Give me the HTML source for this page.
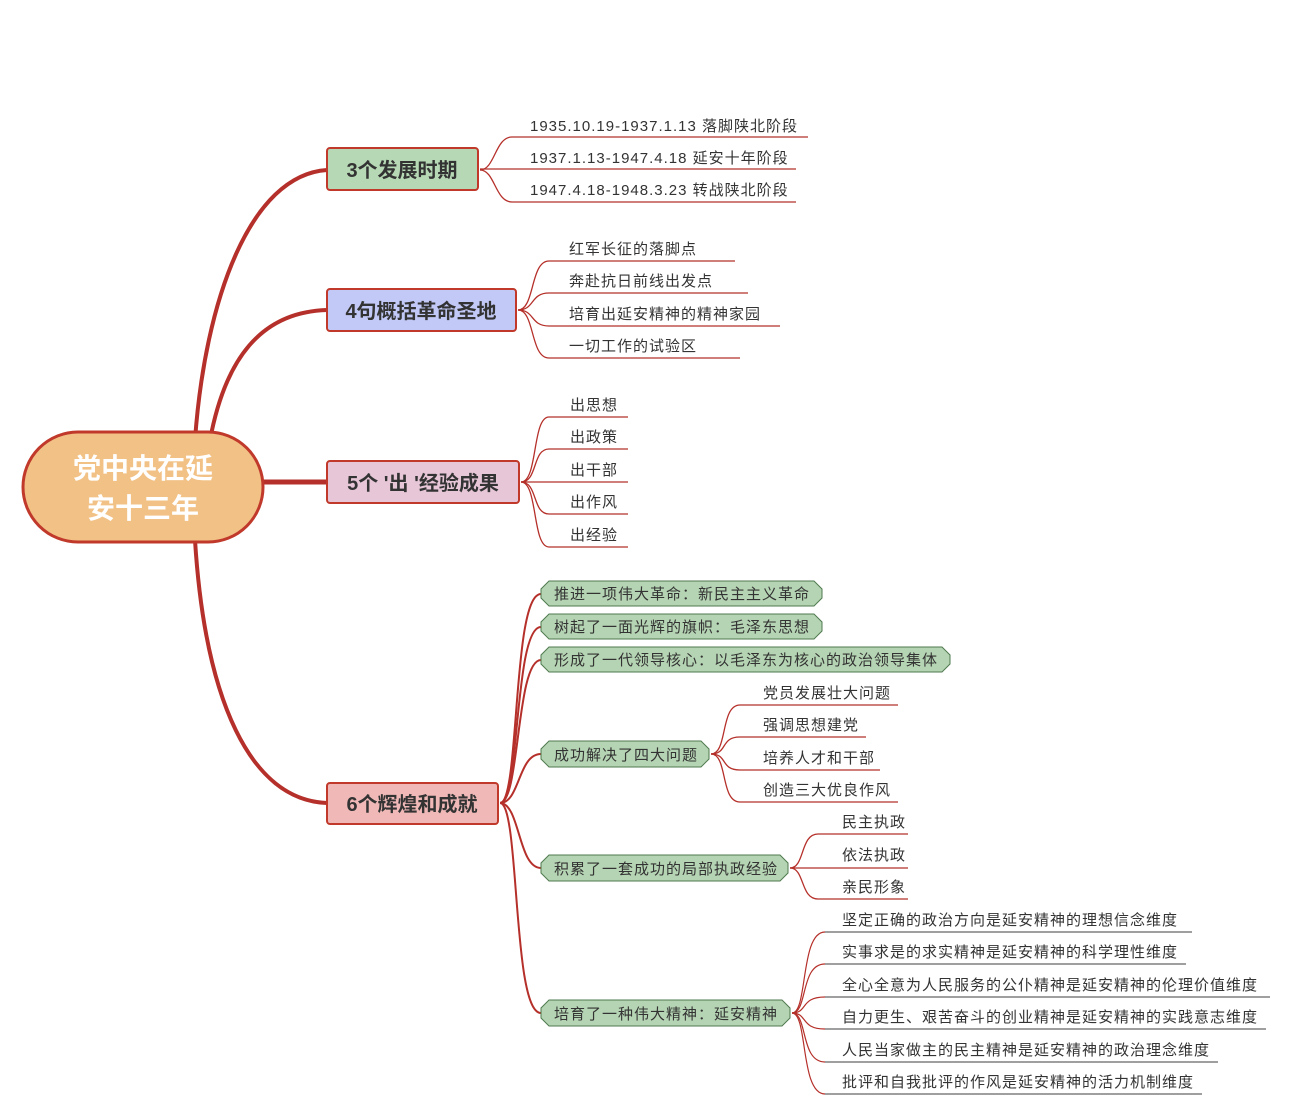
<!DOCTYPE html>
<html><head><meta charset="utf-8"><style>
html,body{margin:0;padding:0;background:#fff;}
svg{display:block;}
text{font-family:"Liberation Sans","Noto Sans CJK SC",sans-serif;}
.l{font-size:15px;fill:#333;letter-spacing:1px;}
.m{font-size:20px;font-weight:bold;fill:#333;}
</style></head><body>
<svg width="1292" height="1112" viewBox="0 0 1292 1112" xmlns="http://www.w3.org/2000/svg">
<g fill="none" stroke="#b5302a" stroke-linecap="round">
<path d="M195 440 C 205 300, 250 175, 327 170" stroke-width="4"/>
<path d="M210 440 C 225 360, 260 312, 327 310" stroke-width="4"/>
<path d="M262 482 L 327 482" stroke-width="5"/>
<path d="M195 540 C 205 700, 250 800, 327 803" stroke-width="4"/>
</g>
<g fill="none" stroke="#b5302a" stroke-width="1.3">
<path d="M480 170 C 495 170, 495 137, 512 137 H808"/>
<path d="M480 169 H796"/>
<path d="M480 170 C 495 170, 495 202, 512 202 H796"/>
<path d="M518 310 C 535 310, 530 261, 549 261 H735"/>
<path d="M518 310 C 535 310, 530 293, 549 293 H748"/>
<path d="M518 310 C 535 310, 530 326, 549 326 H780"/>
<path d="M518 310 C 535 310, 530 358, 549 358 H740"/>
<path d="M521 482 C 538 482, 532 417, 549 417 H628"/>
<path d="M521 482 C 538 482, 532 449, 549 449 H628"/>
<path d="M521 482 H628"/>
<path d="M521 482 C 538 482, 532 514, 549 514 H628"/>
<path d="M521 482 C 538 482, 532 547, 549 547 H628"/>
<path d="M500 803 C 520 803, 512 594, 541 594" stroke-width="2"/>
<path d="M500 803 C 520 803, 514 627, 541 627" stroke-width="2"/>
<path d="M500 803 C 520 803, 516 660, 541 660" stroke-width="2"/>
<path d="M500 803 C 520 803, 518 754, 541 754" stroke-width="2"/>
<path d="M500 803 C 520 803, 518 868, 541 868" stroke-width="2"/>
<path d="M500 803 C 520 803, 512 1013, 541 1013" stroke-width="2"/>
<path d="M711 754 C 728 754, 720 705, 740 705 H898"/>
<path d="M711 754 C 728 754, 720 737, 740 737 H866"/>
<path d="M711 754 C 728 754, 720 770, 740 770 H880"/>
<path d="M711 754 C 728 754, 720 802, 740 802 H898"/>
<path d="M790 868 C 805 868, 800 834, 818 834 H908"/>
<path d="M790 868 H908"/>
<path d="M790 868 C 805 868, 800 899, 818 899 H908"/>
</g>
<g fill="none" stroke="#b5302a" stroke-width="1.2">
<path d="M792 1013 C 808 1013, 800 932, 825 932"/>
<path d="M792 1013 C 808 1013, 800 964, 825 964"/>
<path d="M792 1013 C 808 1013, 800 997, 825 997"/>
<path d="M792 1013 C 808 1013, 800 1029, 825 1029"/>
<path d="M792 1013 C 808 1013, 800 1062, 825 1062"/>
<path d="M792 1013 C 808 1013, 800 1094, 825 1094"/>
</g>
<g stroke="#666" stroke-width="1.2">
<line x1="825" y1="932" x2="1192" y2="932"/>
<line x1="825" y1="964" x2="1186" y2="964"/>
<line x1="825" y1="997" x2="1270" y2="997"/>
<line x1="825" y1="1029" x2="1266" y2="1029"/>
<line x1="825" y1="1062" x2="1218" y2="1062"/>
<line x1="825" y1="1094" x2="1202" y2="1094"/>
</g>

<rect x="23" y="432" width="240" height="110" rx="55" fill="#f2c185" stroke="#c0392b" stroke-width="3"/>
<text x="143" y="478" text-anchor="middle" font-size="28" font-weight="bold" fill="#fff">党中央在延</text>
<text x="143" y="518" text-anchor="middle" font-size="28" font-weight="bold" fill="#fff">安十三年</text>

<rect x="327" y="148" width="151" height="42" rx="3" fill="#b6d8b4" stroke="#c0392b" stroke-width="2"/>
<text class="m" x="402" y="177" text-anchor="middle">3个发展时期</text>
<rect x="327" y="289" width="189" height="42" rx="3" fill="#c2c9f6" stroke="#c0392b" stroke-width="2"/>
<text class="m" x="421" y="318" text-anchor="middle">4句概括革命圣地</text>
<rect x="327" y="461" width="192" height="42" rx="3" fill="#e6c6d7" stroke="#c0392b" stroke-width="2"/>
<text class="m" x="423" y="490" text-anchor="middle">5个 '出 '经验成果</text>
<rect x="327" y="783" width="171" height="41" rx="3" fill="#f0b9b8" stroke="#c0392b" stroke-width="2"/>
<text class="m" x="412" y="811" text-anchor="middle">6个辉煌和成就</text>

<text class="l" x="530" y="131">1935.10.19-1937.1.13 落脚陕北阶段</text>
<text class="l" x="530" y="163">1937.1.13-1947.4.18 延安十年阶段</text>
<text class="l" x="530" y="195">1947.4.18-1948.3.23 转战陕北阶段</text>
<text class="l" x="569" y="254">红军长征的落脚点</text>
<text class="l" x="569" y="286">奔赴抗日前线出发点</text>
<text class="l" x="569" y="319">培育出延安精神的精神家园</text>
<text class="l" x="569" y="351">一切工作的试验区</text>
<text class="l" x="570" y="410">出思想</text>
<text class="l" x="570" y="442">出政策</text>
<text class="l" x="570" y="475">出干部</text>
<text class="l" x="570" y="507">出作风</text>
<text class="l" x="570" y="540">出经验</text>

<g fill="#b5d4b3" stroke="#4e7a4e" stroke-width="1">
<path d="M549 581 H814 L822 589 V598 L814 606 H549 L541 598 V589 Z"/>
<path d="M549 614 H814 L822 622 V631 L814 639 H549 L541 631 V622 Z"/>
<path d="M549 647 H942 L950 655 V664 L942 672 H549 L541 664 V655 Z"/>
<path d="M549 741 H701 L709 749 V759 L701 767 H549 L541 759 V749 Z"/>
<path d="M549 855 H780 L788 863 V873 L780 881 H549 L541 873 V863 Z"/>
<path d="M549 1000 H782 L790 1008 V1018 L782 1026 H549 L541 1018 V1008 Z"/>
</g>
<text class="l" x="554" y="599">推进一项伟大革命：新民主主义革命</text>
<text class="l" x="554" y="632">树起了一面光辉的旗帜：毛泽东思想</text>
<text class="l" x="554" y="665">形成了一代领导核心：以毛泽东为核心的政治领导集体</text>
<text class="l" x="554" y="760">成功解决了四大问题</text>
<text class="l" x="554" y="874">积累了一套成功的局部执政经验</text>
<text class="l" x="554" y="1019">培育了一种伟大精神：延安精神</text>

<text class="l" x="763" y="698">党员发展壮大问题</text>
<text class="l" x="763" y="730">强调思想建党</text>
<text class="l" x="763" y="763">培养人才和干部</text>
<text class="l" x="763" y="795">创造三大优良作风</text>
<text class="l" x="842" y="827">民主执政</text>
<text class="l" x="842" y="860">依法执政</text>
<text class="l" x="842" y="892">亲民形象</text>
<text class="l" x="842" y="925">坚定正确的政治方向是延安精神的理想信念维度</text>
<text class="l" x="842" y="957">实事求是的求实精神是延安精神的科学理性维度</text>
<text class="l" x="842" y="990">全心全意为人民服务的公仆精神是延安精神的伦理价值维度</text>
<text class="l" x="842" y="1022">自力更生、艰苦奋斗的创业精神是延安精神的实践意志维度</text>
<text class="l" x="842" y="1055">人民当家做主的民主精神是延安精神的政治理念维度</text>
<text class="l" x="842" y="1087">批评和自我批评的作风是延安精神的活力机制维度</text>
</svg>
</body></html>
